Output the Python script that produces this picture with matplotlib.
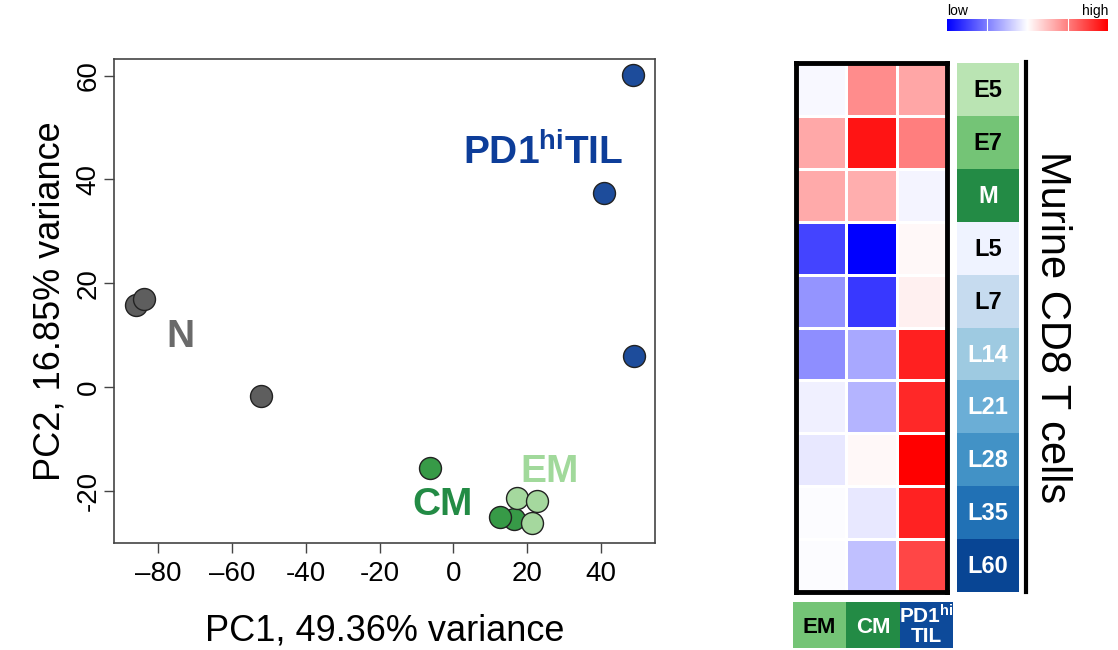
import numpy as np
import matplotlib
matplotlib.use("Agg")
from matplotlib import pyplot as plt
from matplotlib.colors import ListedColormap, LinearSegmentedColormap
from matplotlib.lines import Line2D

plt.rcParams['font.family'] = ['Liberation Sans', 'DejaVu Sans']
plt.rcParams['mathtext.fontset'] = 'custom'
plt.rcParams['mathtext.rm'] = 'Liberation Sans'
plt.rcParams['mathtext.bf'] = 'Liberation Sans:bold'

# PCA coordinates per group
n_pc1 = [-83.8, -85.9, -52.1]
n_pc2 = [17.0, 15.8, -1.7]
cm_pc1 = [16.6, 12.7, -6.3]
cm_pc2 = [-25.4, -25.1, -15.6]
em_pc1 = [17.4, 22.6, 21.3]
em_pc2 = [-21.5, -22.1, -26.2]
til_pc1 = [48.7, 40.9, 49.0]
til_pc2 = [60.1, 37.4, 6.0]

xticks = [-80, -60, -40, -20, 0, 20, 40]
xticklabels = ['\u201380', '\u201360', '-40', '-20', '0', '20', '40']
yticks = [-20, 0, 20, 40, 60]
yticklabels = ['-20', '0', '20', '40', '60']

# heatmap: rows = murine CD8 T cell signatures, cols = human subsets
row_names = ['E5', 'E7', 'M', 'L5', 'L7', 'L14', 'L21', 'L28', 'L35', 'L60']
col_names = ['EM', 'CM', 'TIL']
scores = np.array([
    [-0.03, 0.45, 0.35],
    [0.34, 0.92, 0.50],
    [0.33, 0.32, -0.04],
    [-0.73, -1.00, 0.03],
    [-0.42, -0.78, 0.06],
    [-0.44, -0.34, 0.87],
    [-0.06, -0.29, 0.84],
    [-0.09, 0.03, 1.00],
    [-0.01, -0.09, 0.86],
    [-0.01, -0.25, 0.72],
])
row_colors = ['#BAE4B3', '#74C476', '#238B45', '#EFF3FF', '#C6DBEF',
              '#9ECAE1', '#6BAED6', '#4292C6', '#2171B5', '#084594']
row_text = ['black', 'black', 'white', 'black', 'black',
            'white', 'white', 'white', 'white', 'white']
col_colors = ['#74C476', '#238B45', '#0D4A9A']

W, H = 1118, 650
fig = plt.figure(figsize=(W / 100, H / 100), dpi=100)


def px_axes(x0, y0, x1, y1):
    # axes from pixel box (top-left origin)
    return fig.add_axes([x0 / W, 1 - y1 / H, (x1 - x0) / W, (y1 - y0) / H])


# ---- PCA scatter ----
ax = px_axes(114, 59, 655, 543)
kw = dict(s=250, edgecolors='#222222', linewidths=1.0, zorder=3)
ax.scatter(til_pc1, til_pc2, color='#1D4C9B', **kw)
ax.scatter(n_pc1[::-1], n_pc2[::-1], color='#5E5E5E', **kw)
ax.scatter(cm_pc1, cm_pc2, color='#379A47', **kw)
ax.scatter(em_pc1, em_pc2, color='#A5D89E', **kw)

lab = dict(fontsize=28, fontweight='bold', ha='center', va='center')
ax.text(-74.1, 9.6, 'N', color='#6A6A6A', **lab)
ax.text(24.3, 45.1, r'$\mathbf{PD1^{hi}TIL}$', color='#0D3D99', **lab)
ax.text(-2.8, -22.7, 'CM', color='#238B45', **lab)
ax.text(26.2, -16.4, 'EM', color='#A1D99B', **lab)

ax.set_xlim(-92, 54.7)
ax.set_ylim(-30.1, 63.2)
ax.set_xticks(xticks)
ax.set_xticklabels(xticklabels)
ax.set_yticks(yticks)
ax.set_yticklabels(yticklabels, rotation=90, va='center')
ax.tick_params(length=7, width=1.0, color='#444444', labelsize=20)
ax.tick_params(axis='x', pad=6)
ax.tick_params(axis='y', pad=2)
for sp in ax.spines.values():
    sp.set_color('#444444')
    sp.set_linewidth(1.2)
ax.set_xlabel('PC1, 49.36% variance', fontsize=26, labelpad=19)
ax.set_ylabel('PC2, 16.85% variance', fontsize=26, labelpad=6)

# ---- heatmap ----
bwr = LinearSegmentedColormap.from_list('bwr2', ['#0000FF', '#FFFFFF', '#FF0000'])
hm = px_axes(796, 63, 947, 592)
hm.pcolormesh(scores, cmap=bwr, vmin=-1, vmax=1, edgecolors='white', linewidth=1.0)
hm.set_xlim(0, 3)
hm.set_ylim(len(row_names), 0)
hm.set_xticks([])
hm.set_yticks([])
for sp in hm.spines.values():
    sp.set_linewidth(3.5)
    sp.set_color('black')

# row annotation
ra = px_axes(957, 63, 1019, 592)
ra.pcolormesh(np.arange(len(row_names))[:, None], cmap=ListedColormap(row_colors),
              vmin=-0.5, vmax=len(row_names) - 0.5)
ra.set_ylim(len(row_names), 0)
for i, name in enumerate(row_names):
    ra.text(0.5, i + 0.52, name, color=row_text[i], fontsize=17, fontweight='bold',
            ha='center', va='center')
ra.set_axis_off()

# column annotation
ca = px_axes(793, 602, 953, 648)
ca.pcolormesh(np.arange(3)[None, :], cmap=ListedColormap(col_colors), vmin=-0.5, vmax=2.5)
ca.set_ylim(1, 0)
ca.text(0.5, 0.55, 'EM', color='black', fontsize=16, fontweight='bold', ha='center', va='center')
ca.text(1.5, 0.55, 'CM', color='white', fontsize=16, fontweight='bold', ha='center', va='center')
ca.text(2.5, 0.3, r'$\mathbf{PD1^{hi}}$', color='white', fontsize=15, ha='center', va='center')
ca.text(2.5, 0.76, 'TIL', color='white', fontsize=15, fontweight='bold', ha='center', va='center')
ca.set_axis_off()

# bracket and side label
fig.add_artist(Line2D([1026 / W, 1026 / W], [1 - 62 / H, 1 - 592 / H], color='black', linewidth=3))
fig.text(1052 / W, 1 - 327 / H, 'Murine CD8 T cells', rotation=-90, fontsize=30,
         ha='center', va='center')

# colour key
ck = px_axes(947, 19, 1108, 31)
ck.imshow(np.linspace(-1, 1, 256)[None, :], cmap=bwr, aspect='auto', vmin=-1, vmax=1)
for v in (-0.5, 0.5):
    ck.axvline((v + 1) / 2 * 255, color='white', linewidth=0.8)
ck.set_axis_off()
fig.text(947 / W, 1 - 11 / H, 'low', fontsize=10, ha='left', va='center')
fig.text(1108 / W, 1 - 11 / H, 'high', fontsize=10, ha='right', va='center')

fig.savefig('out.png', dpi=100)
